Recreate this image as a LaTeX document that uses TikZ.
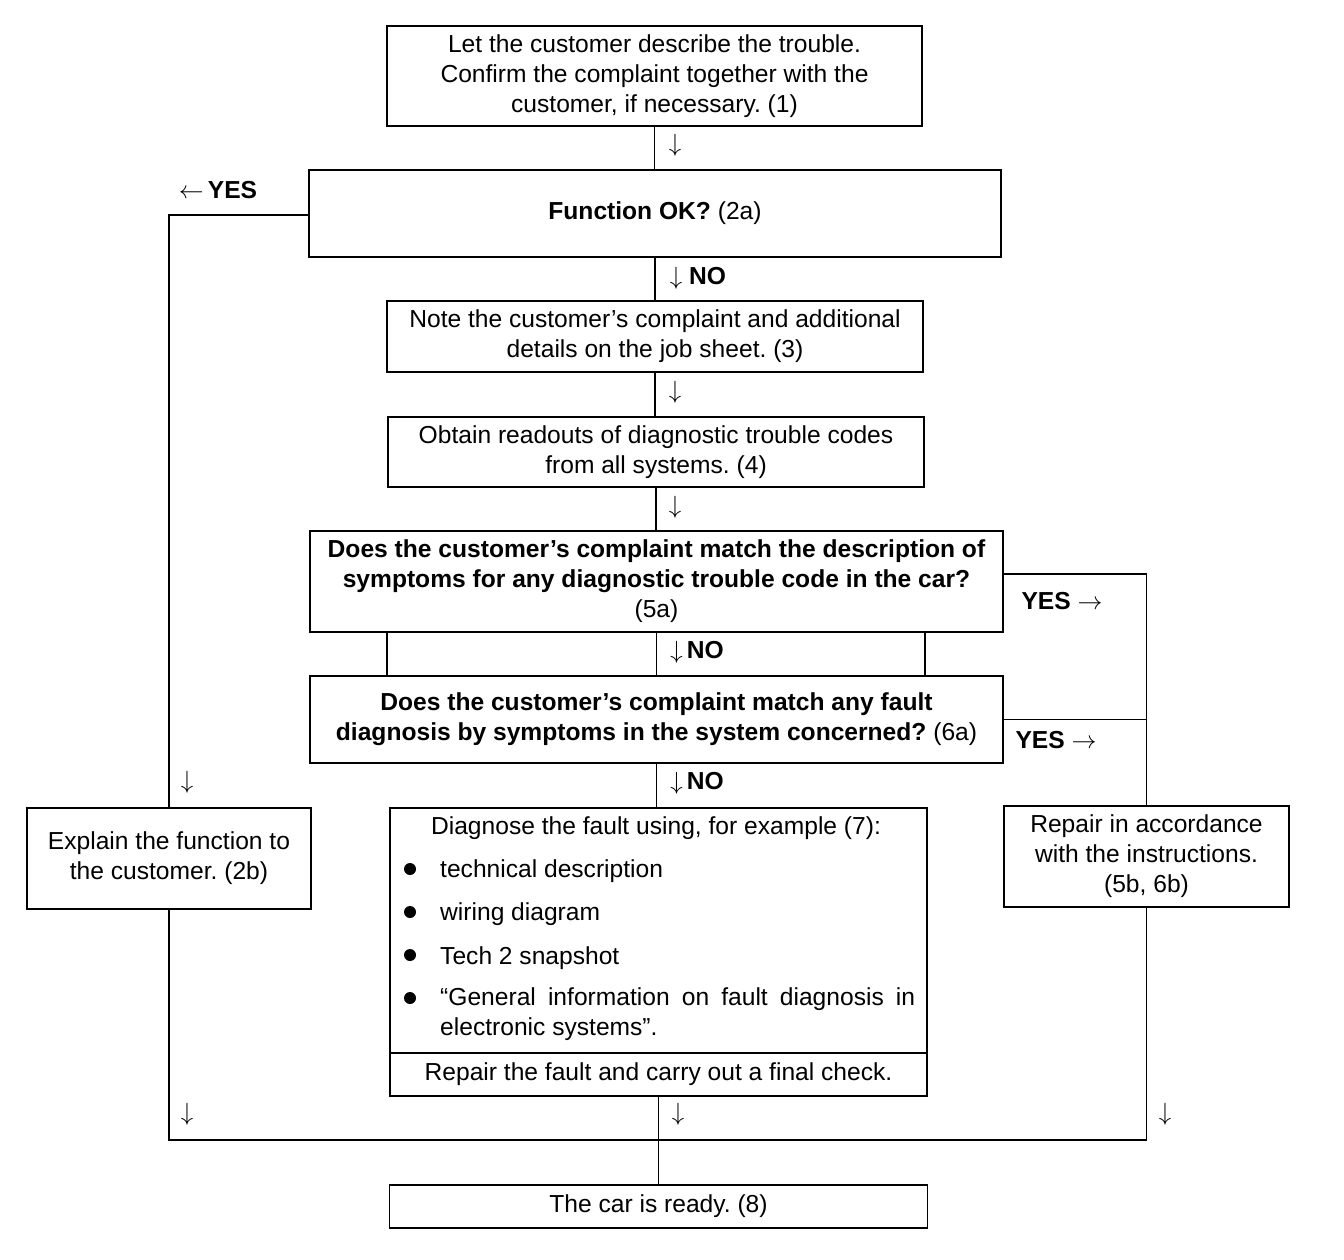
\documentclass[tikz,border=0pt]{standalone}
\usepackage{fontspec}
\setmainfont{Liberation Sans}
\frenchspacing
\newcommand{\dnar}{$\downarrow$}
\newcommand{\lfar}{$\leftarrow$}
\newcommand{\rtar}{$\rightarrow$}
\begin{document}
\begin{tikzpicture}[x=1pt,y=-1pt,
  font=\fontsize{24.6}{30}\selectfont,
  box/.style={draw, line width=1.6pt, rectangle, inner sep=0pt, align=center},
  conn/.style={line width=1.6pt},
  lbl/.style={inner sep=0pt},
  dot/.style={circle, fill, inner sep=0pt, minimum size=12pt}]
\useasboundingbox (0,0) rectangle (1344,1260);
% boxes
\node[box, minimum width=535pt, minimum height=100pt] (b1) at (654.5,76)
  {Let the customer describe the trouble.\\Confirm the complaint together with the\\customer, if necessary. (1)};
\node[box, minimum width=692pt, minimum height=87pt] (b2) at (655,213.5)
  {\textbf{Function OK?} (2a)};
\node[box, minimum width=536pt, minimum height=71pt] (b3) at (655,336.5)
  {Note the customer’s complaint and additional\\details on the job sheet. (3)};
\node[box, minimum width=536pt, minimum height=70pt] (b4) at (656,452)
  {Obtain readouts of diagnostic trouble codes\\from all systems. (4)};
\node[box, minimum width=693pt, minimum height=101pt] (b5) at (656.5,581.5)
  {\textbf{Does the customer’s complaint match the description of}\\\textbf{symptoms for any diagnostic trouble code in the car?}\\(5a)};
\node[box, minimum width=693pt, minimum height=87pt] (b6) at (656.5,719.5)
  {\textbf{Does the customer’s complaint match any fault}\\\textbf{diagnosis by symptoms in the system concerned?} (6a)};
\node[box, minimum width=537pt, minimum height=245pt] (b7) at (658.5,930.5) {};
\node[box, minimum width=537pt, minimum height=43pt] (b7r) at (658.5,1074.5)
  {Repair the fault and carry out a final check.};
\node[box, minimum width=284pt, minimum height=101pt] (expl) at (169,858.5)
  {Explain the function to\\the customer. (2b)};
\node[box, minimum width=285pt, minimum height=101pt] (rep) at (1146.5,856.5)
  {Repair in accordance\\with the instructions.\\(5b, 6b)};
\node[box, minimum width=538pt, minimum height=43pt] (b8) at (658.5,1206.5)
  {The car is ready. (8)};
% contents of box 7
\node[lbl] (t7) at (656,828) {Diagnose the fault using, for example (7):};
\node[dot] (d1) at (410,869) {};
\node[dot] (d2) at (410,912) {};
\node[dot] (d3) at (410,955) {};
\node[dot] (d4) at (410,998) {};
\node[lbl, anchor=west] (i1) at (440,871) {technical description};
\node[lbl, anchor=west] (i2) at (440,914) {wiring diagram};
\node[lbl, anchor=west] (i3) at (440,958) {Tech 2 snapshot};
\node[lbl, anchor=north west, text width=475pt, align=justify] (i4) at (440,987)
  {“General information on fault diagnosis in electronic systems”.};
% connectors
\draw[conn] (b1.south) -- (b1.south |- b2.north);
\draw[conn] (b2.south) -- (b2.south |- b3.north);
\draw[conn] (b3.south) -- (b3.south |- b4.north);
\draw[conn] (b4.south) -- (b4.south |- b5.north);
\draw[conn] (b5.south) -- (b5.south |- b6.north);
\draw[conn] (b4.west |- b5.south) -- (b4.west |- b6.north);
\draw[conn] (b4.east |- b5.south) -- (b4.east |- b6.north);
\draw[conn] (b6.south) -- (b6.south |- b7.north);
\draw[conn] ([yshift=-1.5pt]b2.west) -| (expl.north);
\draw[conn] ([yshift=7.5pt]b5.east) -| (rep.north);
\draw[conn] (b6.east) -- (b6.east -| rep.north);
\coordinate (j) at (658.5,1140);
\draw[conn] (expl.south) |- (j) -| (rep.south);
\draw[conn] (b7r.south) -- (j) -- (b8.north);
% labels
\node[lbl] (yes2) at (218,190) {\lfar\,\textbf{YES}};
\node[lbl] (no2) at (698,278) {\dnar\ \textbf{NO}};
\node[lbl] (a1) at (675,145) {\dnar};
\node[lbl] (a3) at (675,392) {\dnar};
\node[lbl] (a4) at (675,507) {\dnar};
\node[lbl] (no5) at (697,652) {\dnar\,\textbf{NO}};
\node[lbl] (yes5) at (1062,601) {\textbf{YES} \rtar};
\node[lbl] (yes6) at (1056,740) {\textbf{YES} \rtar};
\node[lbl] (no6) at (697,783) {\dnar\,\textbf{NO}};
\node[lbl] (a2b) at (187,782) {\dnar};
\node[lbl] (ab1) at (187,1114) {\dnar};
\node[lbl] (ab2) at (678,1114) {\dnar};
\node[lbl] (ab3) at (1165,1114) {\dnar};
\end{tikzpicture}
\end{document}
